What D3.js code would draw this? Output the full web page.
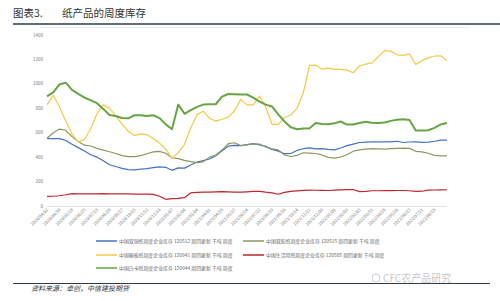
<!DOCTYPE html>
<html>
<head>
<meta charset="utf-8">
<script src="https://cdn.jsdelivr.net/npm/d3@7"></script>
<style>
  body { margin: 0; background: #fff; }
  svg { display: block; font-family: "Noto Sans CJK SC", "Noto Sans", sans-serif; }
</style>
</head>
<body>
<div id="chart"></div>
<script>
const width = 500;
const height = 301;

// x labels, one every 4 weeks
const tickLabels = [
  "2020/04/02", "2020/04/30", "2020/05/28", "2020/06/25", "2020/07/23", "2020/08/20",
  "2020/09/17", "2020/10/15", "2020/11/12", "2020/12/10", "2021/01/07", "2021/02/04",
  "2021/03/04", "2021/04/01", "2021/04/29", "2021/05/27", "2021/06/24", "2021/07/22",
  "2021/08/19", "2021/09/16", "2021/10/14", "2021/11/11", "2021/12/09", "2022/01/06",
  "2022/02/03", "2022/03/03", "2022/03/31", "2022/04/28", "2022/05/26", "2022/06/23",
  "2022/07/21", "2022/08/18"
];

// values read every 2 weeks
const coated = [552, 552, 552, 536, 505, 478, 450, 420, 400, 370, 338, 323, 308, 298, 295, 302,
  306, 314, 320, 317, 292, 312, 310, 335, 360, 372, 385, 411, 452, 490, 497, 494,
  502, 510, 500, 488, 463, 449, 428, 430, 455, 469, 476, 467, 469, 463, 460, 475,
  494, 507, 520, 523, 525, 525, 525, 525, 530, 520, 524, 525, 521, 523, 530, 539, 539];

const offset = [555, 600, 630, 620, 568, 528, 498, 491, 472, 458, 444, 430, 412, 404, 404, 413,
  428, 443, 447, 432, 395, 388, 373, 364, 355, 362, 400, 418, 458, 510, 518, 494,
  500, 508, 507, 483, 469, 459, 418, 405, 414, 436, 433, 430, 418, 398, 392, 401,
  420, 449, 459, 466, 470, 468, 466, 469, 472, 474, 472, 448, 443, 432, 415, 410, 411];

const boxboard = [830, 906, 810, 695, 590, 525, 545, 635, 755, 828, 800, 737, 670, 612, 578, 588,
  584, 553, 515, 465, 392, 437, 505, 640, 748, 776, 718, 695, 710, 728, 780, 873,
  828, 828, 900, 810, 668, 668, 724, 745, 800, 925, 1151, 1153, 1120, 1129, 1118, 1118,
  1112, 1091, 1146, 1162, 1172, 1222, 1272, 1268, 1238, 1233, 1245, 1158, 1190, 1213, 1228, 1230, 1190];

const tissue = [78, 80, 84, 92, 102, 100, 99, 100, 100, 101, 100, 100, 100, 99, 98, 98,
  97, 95, 80, 55, 60, 63, 68, 108, 112, 113, 114, 115, 117, 116, 114, 113,
  116, 120, 120, 113, 108, 96, 112, 120, 124, 128, 130, 129, 128, 127, 130, 132,
  134, 135, 118, 120, 125, 125, 126, 126, 127, 127, 125, 120, 121, 130, 131, 132, 133];

const ivory = [898, 930, 995, 1010, 950, 918, 888, 865, 842, 795, 745, 737, 720, 718, 743, 742,
  737, 743, 720, 668, 629, 830, 755, 785, 812, 830, 833, 833, 895, 917, 915, 913,
  913, 888, 855, 830, 815, 750, 692, 645, 629, 634, 637, 680, 672, 670, 678, 692,
  667, 667, 680, 690, 682, 680, 683, 697, 706, 710, 705, 619, 618, 620, 640, 668, 680];

const seriesNames = [
  "中国双铜纸周度企业库存 120512 周四更新 千吨 周度",
  "中国双胶纸周度企业库存 120515 周四更新 千吨 周度",
  "中国箱板纸周度企业库存 120941 周四更新 千吨 周度",
  "中国生活用纸周度企业库存 120585 周四更新 千吨 周度",
  "中国白卡纸周度企业库存 120944 周四更新 千吨 周度"
];
const seriesValues = [coated, offset, boxboard, tissue, ivory];
const seriesColors = ["#4472c4", "#8a9960", "#f5c848", "#c0262c", "#67a444"];
const seriesWidths = [1.2, 1.2, 1.2, 1.2, 2];

const yTicks = [0, 200, 400, 600, 800, 1000, 1200, 1400];

const svg = d3.select("#chart")
  .append("svg")
  .attr("width", width)
  .attr("height", height)
  .attr("viewBox", [0, 0, width, height]);

const plot = { left: 47, right: 447, top: 35, bottom: 206 };

// weeks: each value is 2 weeks apart
const x = d3.scaleLinear()
  .domain([0, (coated.length - 1) * 2])
  .range([plot.left, plot.right]);

const y = d3.scaleLinear()
  .domain([0, 1400])
  .range([plot.bottom, plot.top]);

// title
svg.append("text")
  .attr("x", 13)
  .attr("y", 17)
  .attr("font-size", 10.5)
  .attr("fill", "#333")
  .text("图表3.");
svg.append("text")
  .attr("x", 62)
  .attr("y", 17)
  .attr("font-size", 10.5)
  .attr("fill", "#333")
  .text("纸产品的周度库存");
svg.append("line")
  .attr("x1", 13).attr("x2", 500)
  .attr("y1", 24).attr("y2", 24)
  .attr("stroke", "#2e3b4a")
  .attr("stroke-width", 1.4);

// faint chart frame top
svg.append("line")
  .attr("x1", 40).attr("x2", 470)
  .attr("y1", 27.5).attr("y2", 27.5)
  .attr("stroke", "#e6edf5")
  .attr("stroke-width", 0.8);

// y axis labels
svg.append("g")
  .selectAll("text")
  .data(yTicks)
  .join("text")
  .attr("x", 43)
  .attr("y", d => y(d) + 1.6)
  .attr("text-anchor", "end")
  .attr("font-size", 4.5)
  .attr("fill", "#777")
  .text(d => d);

// x axis
svg.append("line")
  .attr("x1", plot.left).attr("x2", plot.right)
  .attr("y1", plot.bottom + 0.5).attr("y2", plot.bottom + 0.5)
  .attr("stroke", "#d9d9d9")
  .attr("stroke-width", 0.8);

svg.append("g")
  .selectAll("text")
  .data(tickLabels)
  .join("text")
  .attr("text-anchor", "end")
  .attr("font-size", 4.3)
  .attr("fill", "#777")
  .attr("transform", (d, i) => `translate(${x(i * 4) + 1.5},${plot.bottom + 4}) rotate(-45)`)
  .text(d => d);

// lines
const line = d3.line()
  .x((d, i) => x(i * 2))
  .y(d => y(d));

svg.append("g")
  .selectAll("path")
  .data(seriesValues)
  .join("path")
  .attr("fill", "none")
  .attr("stroke", (d, i) => seriesColors[i])
  .attr("stroke-width", (d, i) => seriesWidths[i])
  .attr("stroke-linejoin", "round")
  .attr("d", line);

// legend
const legendPos = [
  { x: 96, y: 241 }, { x: 243, y: 241 },
  { x: 96, y: 255 }, { x: 243, y: 255 },
  { x: 96, y: 268 }
];

const legend = svg.append("g")
  .selectAll("g")
  .data(seriesNames)
  .join("g")
  .attr("transform", (d, i) => `translate(${legendPos[i].x},${legendPos[i].y})`);

legend.append("line")
  .attr("x1", 0).attr("x2", 21)
  .attr("stroke", (d, i) => seriesColors[i])
  .attr("stroke-width", 1.5);

legend.append("text")
  .attr("x", 23)
  .attr("y", 1.7)
  .attr("font-size", 4.9)
  .attr("fill", "#666")
  .text(d => d);

// footer
svg.append("line")
  .attr("x1", 13).attr("x2", 490)
  .attr("y1", 283.5).attr("y2", 283.5)
  .attr("stroke", "#2e3b4a")
  .attr("stroke-width", 1.2);

svg.append("text")
  .attr("x", 31)
  .attr("y", 291)
  .attr("font-size", 7)
  .attr("font-style", "italic")
  .attr("fill", "#333")
  .text("资料来源：卓创，中信建投期货");

// watermark
svg.append("circle")
  .attr("cx", 376).attr("cy", 278).attr("r", 4)
  .attr("fill", "#fff")
  .attr("stroke", "#c4c4c4")
  .attr("stroke-width", 0.8);
svg.append("text")
  .attr("x", 383)
  .attr("y", 281.5)
  .attr("font-size", 10)
  .attr("fill", "#c8c8c8")
  .text("CFC农产品研究");
</script>
</body>
</html>
